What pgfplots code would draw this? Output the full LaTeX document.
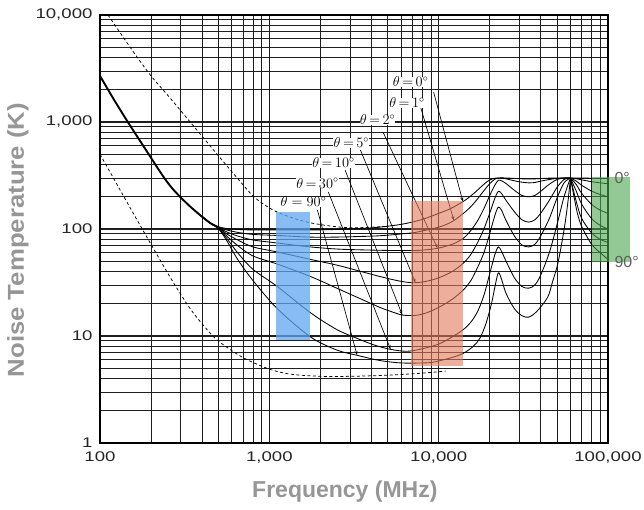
\documentclass[border=0pt]{standalone}
\usepackage{fontspec}
\setmainfont{Liberation Sans}
\newfontfamily\tickfont[FakeStretch=1.33]{Liberation Sans}
\newfontfamily\ylabfont[FakeStretch=1.12]{Liberation Sans}
\usepackage{pgfplots}
\pgfplotsset{compat=1.18}
\usetikzlibrary{arrows.meta}
\definecolor{lblgray}{RGB}{150,150,150}
\definecolor{rblue}{RGB}{95,165,240}
\definecolor{rred}{RGB}{225,120,90}
\definecolor{rgreen}{RGB}{75,165,75}
\definecolor{gridc}{RGB}{30,30,30}
\definecolor{deggray}{RGB}{95,95,95}
\begin{document}
\begin{tikzpicture}
\begin{axis}[
  width=508pt, height=428pt, scale only axis,
  xmode=log, ymode=log,
  xmin=100, xmax=100000, ymin=1, ymax=10000,
  clip=false,
  grid=both,
  major grid style={gridc, line width=1.1pt},
  minor grid style={gridc, line width=0.85pt},
  axis line style={black, line width=1.5pt},
  major tick length=0pt, minor tick length=0pt,
  xtick={100,1000,10000,100000},
  xticklabels={100,{1,000},{10,000},{100,000}},
  ytick={1,10,100,1000,10000},
  yticklabels={1,10,100,{1,000},{10,000}},
  ticklabel style={font=\tickfont\fontsize{14}{14}\selectfont, text=black!85},
  xticklabel style={yshift=-5pt},
  yticklabel style={xshift=-4pt},
  xlabel={Frequency (MHz)},
  ylabel={Noise Temperature (K)},
  xlabel style={font=\bfseries\fontsize{23}{23}\selectfont, text=lblgray, at={(axis description cs:0.482,-0.1145)}, anchor=center},
  ylabel style={font=\ylabfont\bfseries\fontsize{23}{23}\selectfont, text=lblgray, at={(axis description cs:-0.1614,0.474)}, anchor=center},
  every axis plot/.append style={black},
]
\coordinate (sw) at (rel axis cs:0,0);

% main (merged) curve
\addplot[line width=1.9pt, smooth] coordinates {
(100,2700)(120,1650)(146,1000)(180,600)(233,320)(270,235)(330,170)(390,135)(450,113)(500,104)};

% upper dashed curve
\addplot[line width=0.75pt, dash pattern=on 3pt off 2.5pt, smooth] coordinates {
(111.5,10000)(154.6,4710)(200,2700)(259.4,1676)(418,679)(646,300)(826,195)(1113,144)(1672,116)(2625,104)(3500,103)(5000,106)};

% lower dashed curve
\addplot[line width=0.75pt, dash pattern=on 3pt off 2.5pt, smooth] coordinates {
(100,500)(150,160)(200,72)(270,32)(350,17)(470,9.8)(600,7.3)(740,6)(1000,4.9)(1330,4.4)(2000,4.2)(3000,4.2)(5000,4.3)(8000,4.5)(11000,4.7)};

% theta = 0
\addplot[line width=0.85pt, smooth, tension=0.5] coordinates {
(390,135)(450,113)(500,105)(560,101)(650,99)(800,98)(1115,98)(1750,98)(2500,99)(3300,101)(4200,103)(5200,107)(6100,111)(7300,118)(8500,127)(10000,140)(11200,150)(12300,161)(13900,180)(15000,196)(16500,222)(18000,252)(19500,280)(21000,296)(22500,300)(25000,300)(28000,297)(34000,293)(40000,296)(45000,299)(50000,300)(60000,300)};
\addplot[line width=0.85pt, smooth] coordinates {
(60000,300)(70000,300)(80000,298)(90000,297)(100000,296)};

% theta = 1
\addplot[line width=0.85pt, smooth, tension=0.5] coordinates {
(390,135)(450,113)(500,104)(560,98)(650,93)(800,89)(1115,87)(1750,84)(2500,84)(3300,85)(4200,86)(5200,88)(6500,91)(7300,93)(8500,98)(10000,104)(11200,111)(12300,120)(14000,140)(15500,162)(17000,192)(18500,228)(20000,265)(21500,293)(22500,300)(24000,298)(26000,290)(30000,276)(34000,270)(37000,272)(40000,280)(45000,290)(50000,297)(55000,300)(60000,300)};
\addplot[line width=0.85pt, smooth] coordinates {
(60000,300)(65000,295)(70000,288)(80000,277)(90000,270)(100000,265)};

% theta = 2
\addplot[line width=0.85pt, smooth, tension=0.5] coordinates {
(390,135)(450,113)(500,103)(560,94)(650,86)(800,79)(1115,74)(1750,68)(2500,65)(3300,64)(5200,63)(7300,63)(8500,64)(9850,66)(11000,69)(12300,73)(14000,82)(15500,97)(17000,120)(18500,155)(20000,205)(21500,258)(22500,285)(23500,282)(25000,266)(28000,230)(31000,206)(34000,200)(37000,206)(40000,225)(45000,262)(50000,290)(55000,300)(60000,300)};
\addplot[line width=0.85pt, smooth] coordinates {
(60000,300)(65000,280)(70000,256)(80000,226)(90000,210)(100000,200)};

% theta = 5
\addplot[line width=0.85pt, smooth, tension=0.5] coordinates {
(390,135)(450,113)(500,103)(560,90)(650,79)(800,68)(1115,61)(1750,52)(2500,46)(3300,41)(4200,37)(5200,34)(6300,32)(7300,31.5)(8500,32.5)(10000,35)(12000,40)(14000,48)(15500,58)(17000,75)(18500,100)(20000,140)(21500,195)(22500,225)(23500,215)(25000,185)(28000,145)(31000,122)(34000,116)(37000,122)(40000,140)(45000,185)(50000,245)(55000,290)(60000,300)};
\addplot[line width=0.85pt, smooth] coordinates {
(60000,300)(65000,260)(70000,215)(80000,170)(90000,150)(100000,140)};

% theta = 10
\addplot[line width=0.85pt, smooth, tension=0.5] coordinates {
(390,135)(450,113)(500,102)(560,86)(650,70)(800,56)(1115,47)(1750,36)(2500,28)(3300,23)(4500,18.5)(5200,17)(6100,15.7)(7300,15.6)(8500,16.5)(10000,18.5)(12000,22)(14000,27)(15500,33)(17000,44)(18500,60)(20000,90)(21500,135)(22500,160)(23500,150)(25000,120)(28000,86)(31000,71)(34000,68)(37000,72)(40000,86)(45000,125)(50000,195)(55000,270)(60000,300)};
\addplot[line width=0.85pt, smooth] coordinates {
(60000,300)(65000,225)(70000,170)(80000,125)(90000,108)(100000,100)};

% theta = 30
\addplot[line width=0.85pt, smooth, tension=0.5] coordinates {
(390,135)(450,113)(500,102)(560,82)(650,60)(800,42)(1115,29)(1750,16.5)(2500,11.5)(3300,9.5)(4200,8.2)(5200,7.5)(6500,7.2)(8000,7.6)(10000,8.4)(12000,9.8)(14000,11.5)(15500,13.5)(17000,17)(18500,24)(20000,38)(21500,58)(22500,68)(23500,62)(25000,50)(28000,35)(31000,29)(34000,28)(37000,30)(40000,37)(45000,60)(50000,110)(55000,200)(60000,300)};
\addplot[line width=0.85pt, smooth] coordinates {
(60000,300)(65000,180)(70000,125)(80000,92)(90000,80)(100000,75)};

% theta = 90
\addplot[line width=0.85pt, smooth, tension=0.5] coordinates {
(390,135)(450,113)(500,101)(560,78)(650,52)(800,33)(1115,18)(1750,9.8)(2500,7.4)(3300,6.6)(4500,5.9)(6000,5.6)(8000,5.6)(9300,5.7)(12000,6.3)(14000,6.9)(16000,8)(17500,9.5)(19000,13)(20500,20)(21500,29)(22500,39)(23500,34)(25000,25)(28000,18)(31000,15.5)(34000,15)(38000,17)(44000,23)(47000,32)(50600,48)(55000,98)(58000,180)(60000,300)};
\addplot[line width=0.85pt, smooth] coordinates {
(60000,300)(63000,200)(66000,140)(70000,105)(80000,72)(90000,60)(100000,52)};

% leader lines
\draw[line width=0.65pt, -{Stealth[length=4.5pt,width=3pt]}] (axis cs:9335,1906) -- (axis cs:13900,180);
\draw[line width=0.65pt, -{Stealth[length=4.5pt,width=3pt]}] (axis cs:7850,1352) -- (axis cs:12300,120);
\draw[line width=0.65pt, -{Stealth[length=4.5pt,width=3pt]}] (axis cs:4720,789) -- (axis cs:9850,66);
\draw[line width=0.65pt, -{Stealth[length=4.5pt,width=3pt]}] (axis cs:3450,547) -- (axis cs:7300,31.5);
\draw[line width=0.65pt, -{Stealth[length=4.5pt,width=3pt]}] (axis cs:2800,356) -- (axis cs:6100,15.7);
\draw[line width=0.65pt, -{Stealth[length=4.5pt,width=3pt]}] (axis cs:2230,222) -- (axis cs:5200,7.5);
\draw[line width=0.65pt, -{Stealth[length=4.5pt,width=3pt]}] (axis cs:1924,150) -- (axis cs:3300,6.6);

% labels
\tikzset{thl/.style={fill=white, inner sep=0.3pt, font=\fontsize{14}{14}\selectfont}}
\node[thl] at (axis cs:6830,2366) {$\theta\,{=}\,0^\circ$};
\node[thl] at (axis cs:6500,1506) {$\theta\,{=}\,1^\circ$};
\node[thl] at (axis cs:4350,1045) {$\theta\,{=}\,2^\circ$};
\node[thl] at (axis cs:3050,637) {$\theta\,{=}\,5^\circ$};
\node[thl] at (axis cs:2390,414) {$\theta\,{=}\,10^\circ$};
\node[thl] at (axis cs:1924,269) {$\theta\,{=}\,30^\circ$};
\node[thl] at (axis cs:1591,179) {$\theta = 90^\circ$};

% highlight rectangles
\fill[rblue, fill opacity=0.75] (axis cs:1100,9.2) rectangle (axis cs:1750,145);
\fill[rred, fill opacity=0.6] (axis cs:6900,5.2) rectangle (axis cs:14000,183);
\fill[rgreen, fill opacity=0.6] (axis cs:80400,49) rectangle (axis cs:135000,306);
\node[anchor=west, text=deggray, font=\fontsize{16}{16}\selectfont, inner sep=0pt] at (axis cs:109000,300) {0°};
\node[anchor=west, text=deggray, font=\fontsize{16}{16}\selectfont, inner sep=0pt] at (axis cs:109000,49) {90°};
\end{axis}
\pgfresetboundingbox
\path[use as bounding box] ([shift={(-100pt,-66pt)}]sw) rectangle ([shift={(544pt,443pt)}]sw);
\end{tikzpicture}
\end{document}
